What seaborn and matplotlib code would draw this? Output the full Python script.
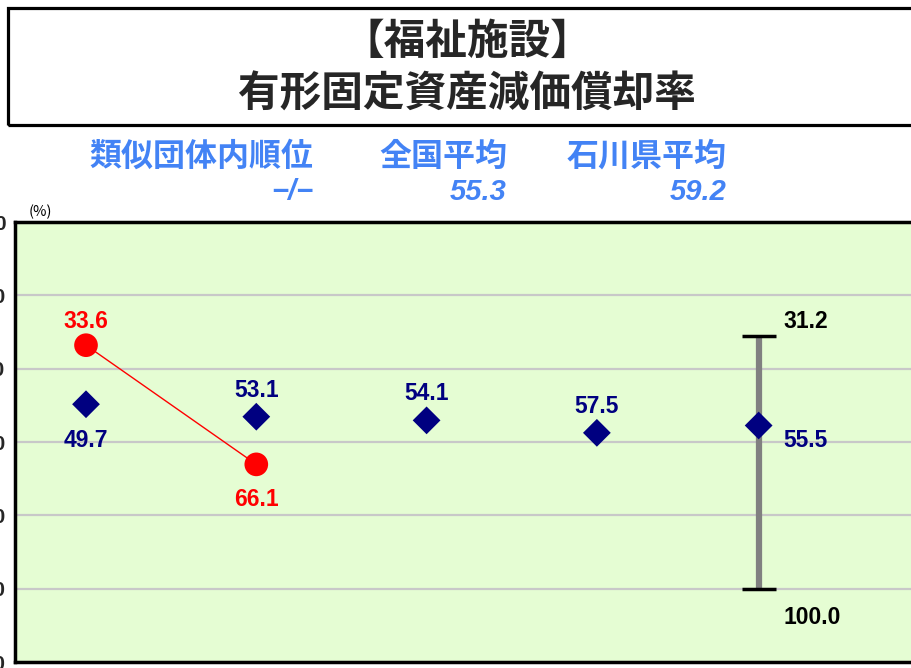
import matplotlib
matplotlib.use("Agg")
import matplotlib.pyplot as plt
from matplotlib.patches import Rectangle
import seaborn as sns
import pandas as pd

# data
group_x = [0, 1, 2, 3, 3.95]
group_avg = [49.7, 53.1, 54.1, 57.5, 55.5]       # 類似団体平均 (diamonds)
own_x = [0, 1]
own_vals = [33.6, 66.1]                           # 当該団体値 (red)
range_x = 3.95
range_lo, range_hi = 31.2, 100.0
yticks = [0, 20, 40, 60, 80, 100, 120]

title1 = "【福祉施設】"
title2 = "有形固定資産減価償却率"
head_labels = ["類似団体内順位", "全国平均", "石川県平均"]
head_values = ["−/−", "55.3", "59.2"]

sns.set_theme(style="white")
plt.rcParams["font.family"] = ["Liberation Sans", "Noto Sans CJK JP", "DejaVu Sans"]

W, H = 912, 668
fig = plt.figure(figsize=(W / 100, H / 100), dpi=100)
fig.patch.set_facecolor("white")

# axes: left frame at x=15px, extends past right edge like the cropped original
ax = fig.add_axes([15 / W, 6 / H, (940 - 15) / W, 440 / H])
ax.set_facecolor("#e5fdd3")

df_avg = pd.DataFrame({"x": group_x, "v": group_avg})
df_own = pd.DataFrame({"x": own_x, "v": own_vals})

# range bar (min / max)
eb = ax.errorbar([range_x], [(range_lo + range_hi) / 2],
                 yerr=[[(range_hi - range_lo) / 2], [(range_hi - range_lo) / 2]],
                 fmt="none", ecolor="#808080", elinewidth=4.5, capsize=12, capthick=2.5, zorder=3)
for cap in eb[1]:
    cap.set_color("black")
    cap.set_markeredgecolor("black")
    cap.set_markerfacecolor("black")

sns.lineplot(data=df_own, x="x", y="v", color="#ff0000", linewidth=1, ax=ax, zorder=4)
sns.scatterplot(data=df_own, x="x", y="v", color="#ff0000", s=290, marker="o",
                edgecolor="none", ax=ax, zorder=5)
sns.scatterplot(data=df_avg, x="x", y="v", color="#000080", s=200, marker="D",
                edgecolor="none", ax=ax, zorder=5)

lab_font = dict(fontsize=16.5, fontweight="bold", family=["Liberation Sans", "DejaVu Sans"])

# labels for red values
for i, (x, v) in enumerate(zip(own_x, own_vals)):
    dy = 17 if i == 0 else -25
    ax.annotate(f"{v:.1f}", (x, v), xytext=(0, dy), textcoords="offset points",
                ha="center", va="center", color="#ff0000", **lab_font)

# labels for averages
for i, (x, v) in enumerate(zip(group_x, group_avg)):
    if i == 0:
        off, ha = (0, -26), "center"
    elif i == len(group_x) - 1:
        off, ha = (18, -11), "left"
    else:
        off, ha = (0, 19), "center"
    ax.annotate(f"{v:.1f}", (x, v), xytext=off, textcoords="offset points",
                ha=ha, va="center", color="#000080", **lab_font)

ax.annotate(f"{range_lo:.1f}", (range_x, range_lo), xytext=(18, 11), textcoords="offset points",
            ha="left", va="center", color="black", **lab_font)
ax.annotate(f"{range_hi:.1f}", (range_x, range_hi), xytext=(18, -21), textcoords="offset points",
            ha="left", va="center", color="black", **lab_font)

ax.set_xlim(-0.417, 5.015)
ax.set_ylim(120, 0)
ax.set_yticks(yticks)
ax.set_yticklabels([str(t) for t in yticks], fontsize=15, fontweight="bold")
ax.tick_params(axis="y", length=0, pad=7)
ax.set_xticks([])
ax.set_xlabel("")
ax.set_ylabel("")
ax.grid(axis="y", color="#c8c8c8", linewidth=1.6)
ax.set_axisbelow(True)
for s in ax.spines.values():
    s.set_color("black")
    s.set_linewidth(2.5)

# title box
fig.patches.append(Rectangle((8 / W, (H - 125) / H), (925 - 8) / W, 117 / H,
                             transform=fig.transFigure, fill=False,
                             edgecolor="black", linewidth=2.3))
cjk = ["Noto Sans CJK JP", "DejaVu Sans"]
fig.text(467 / W, 1 - 42 / H, title1, ha="center", va="center", fontsize=30,
         fontweight="bold", family=cjk)
fig.text(467 / W, 1 - 95 / H, title2, ha="center", va="center", fontsize=30,
         fontweight="bold", family=cjk)

# header texts
blue = "#4383f5"
right_edges = [313, 507, 727]
for lab, val, xr in zip(head_labels, head_values, right_edges):
    fig.text(xr / W, 1 - 157 / H, lab, ha="right", va="center", fontsize=23,
             fontweight="bold", color=blue, family=cjk)
    fig.text(xr / W, 1 - 192 / H, val, ha="right", va="center", fontsize=21,
             fontweight="bold", style="italic", color=blue,
             family=["Liberation Sans", "DejaVu Sans"])

fig.text(40 / W, 1 - 212 / H, "(%)", ha="center", va="center", fontsize=10.5, color="black",
         family=cjk)

fig.savefig("out.png", dpi=100)
